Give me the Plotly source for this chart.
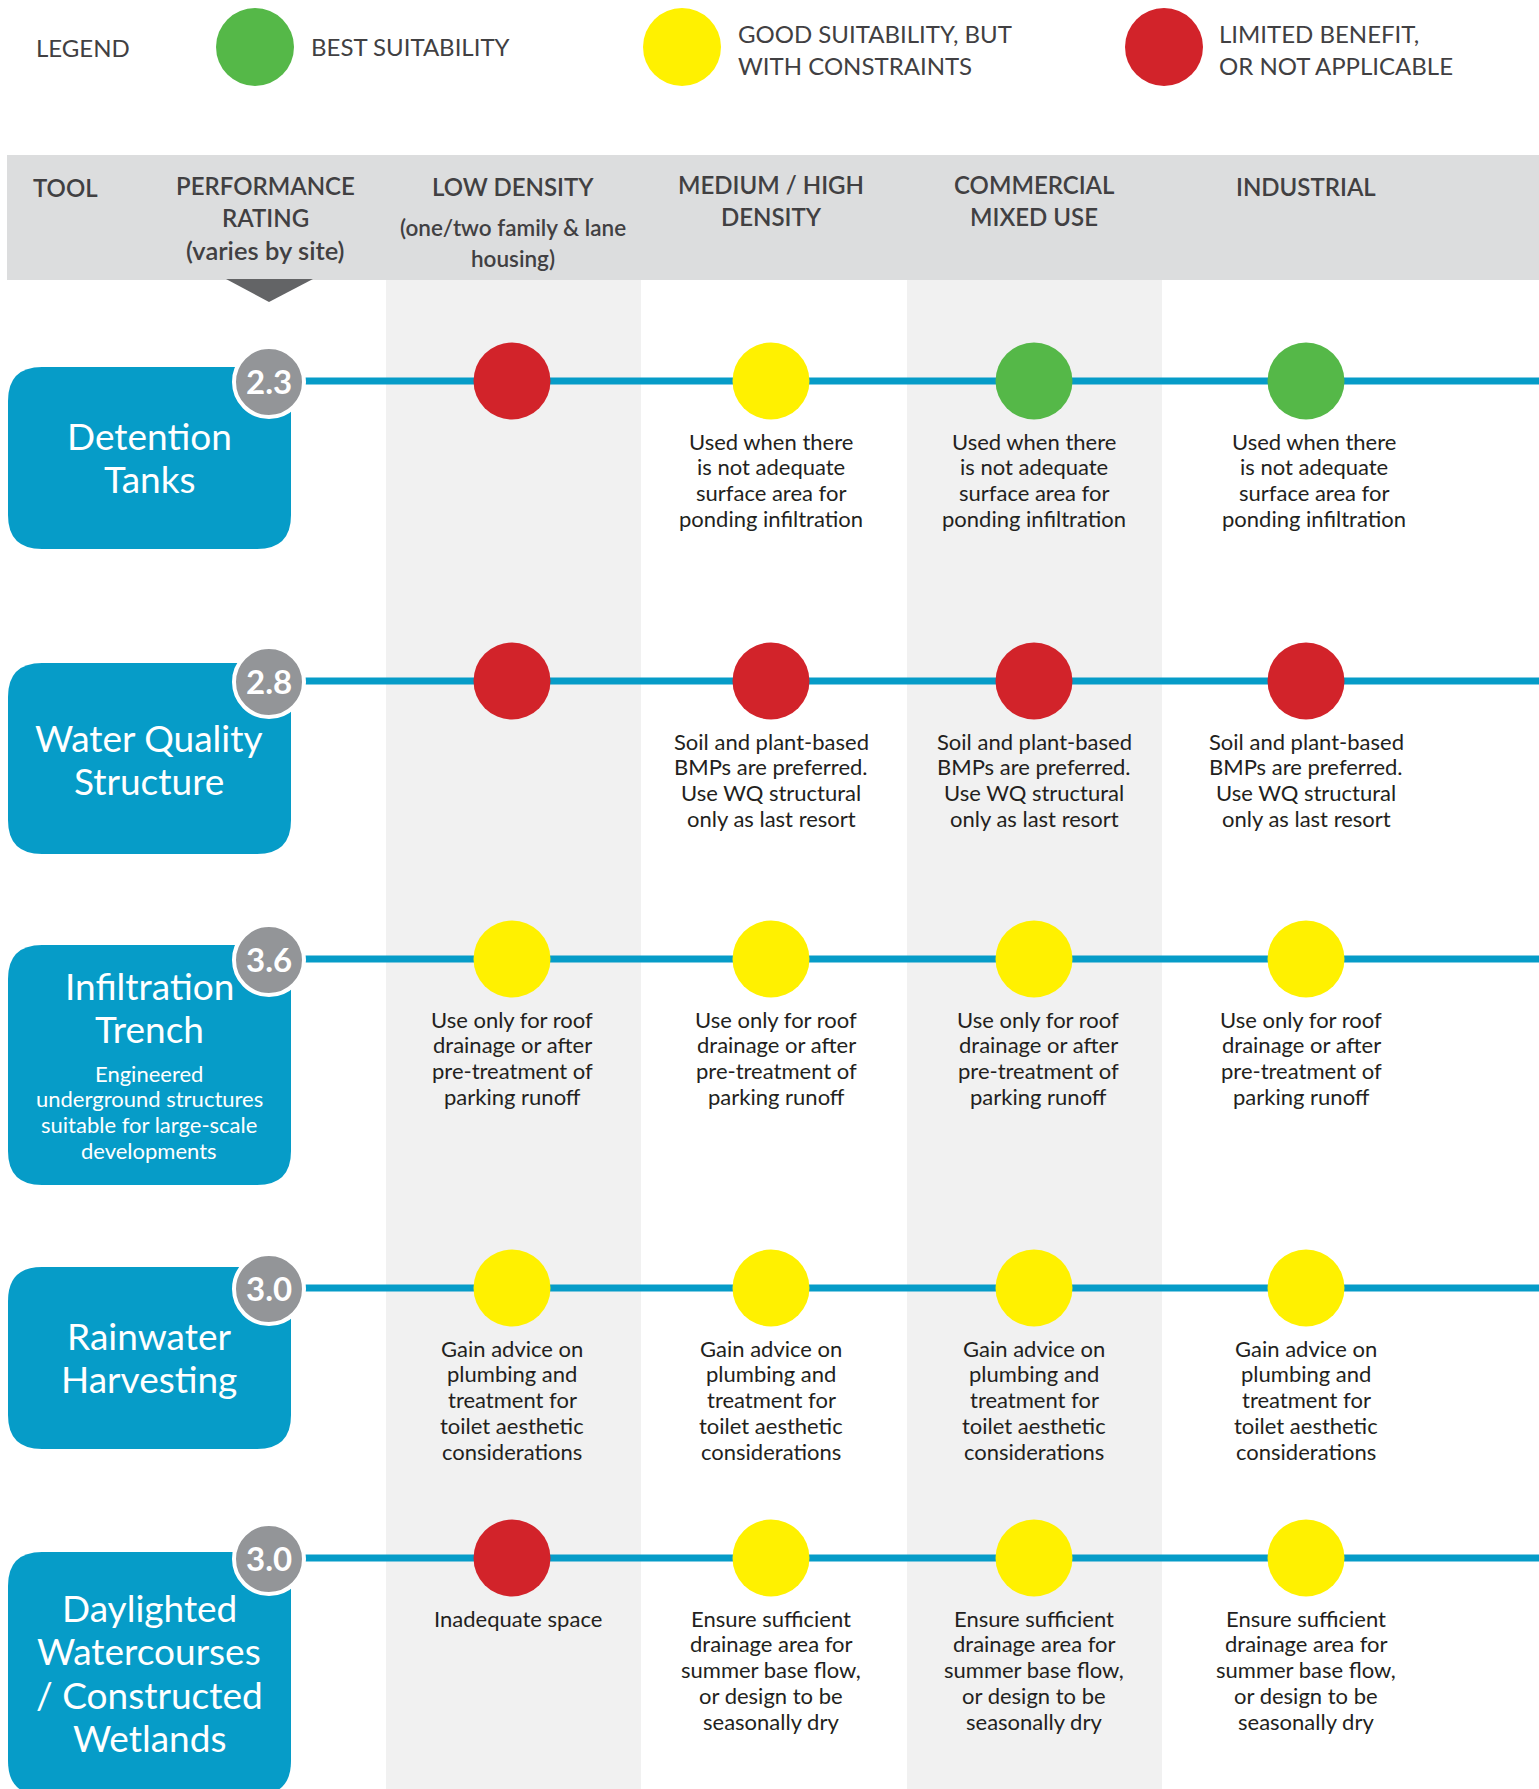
import plotly.graph_objects as go

# ---------------- DATA ----------------
tools = ["Detention\nTanks", "Water Quality\nStructure", "Infiltration\nTrench",
         "Rainwater\nHarvesting", "Daylighted\nWatercourses\n/ Constructed\nWetlands"]
tool_notes = ["", "", "Engineered\nunderground structures\nsuitable for large-scale\ndevelopments", "", ""]
ratings = [2.3, 2.8, 3.6, 3.0, 3.0]

header_labels = ["TOOL", "PERFORMANCE\nRATING\n(varies by site)",
                 "LOW DENSITY\n(one/two family & lane\nhousing)",
                 "MEDIUM / HIGH\nDENSITY", "COMMERCIAL\nMIXED USE", "INDUSTRIAL"]

legend_labels = ["BEST SUITABILITY", "GOOD SUITABILITY, BUT\nWITH CONSTRAINTS",
                 "LIMITED BENEFIT,\nOR NOT APPLICABLE"]
legend_codes = ["G", "Y", "R"]

# suitability per tool (rows) x land use (columns): G=best, Y=good w/ constraints, R=limited
suitability = [
    ["R", "Y", "G", "G"],
    ["R", "R", "R", "R"],
    ["Y", "Y", "Y", "Y"],
    ["Y", "Y", "Y", "Y"],
    ["R", "Y", "Y", "Y"],
]
_ponding = "Used when there\nis not adequate\nsurface area for\nponding infiltration"
_soil = "Soil and plant-based\nBMPs are preferred.\nUse WQ structural\nonly as last resort"
_roof = "Use only for roof\ndrainage or after\npre-treatment of\nparking runoff"
_gain = "Gain advice on\nplumbing and\ntreatment for\ntoilet aesthetic\nconsiderations"
_ensure = "Ensure sufficient\ndrainage area for\nsummer base flow,\nor design to be\nseasonally dry"
notes = [
    ["", _ponding, _ponding, _ponding],
    ["", _soil, _soil, _soil],
    [_roof, _roof, _roof, _roof],
    [_gain, _gain, _gain, _gain],
    ["Inadequate space", _ensure, _ensure, _ensure],
]

# ---------------- LAYOUT / STYLE ----------------
W, H = 1539, 1789
COLORS = {"G": "#55B848", "Y": "#FFF100", "R": "#D2232A"}
TEAL = "#069CC8"
RATING_GRAY = "#939598"
HEADER_GRAY = "#DCDDDE"
SHADE = "#F1F1F1"
TXT = "#231F20"
HTXT = "#414042"
FONT = "Lato"

COL_X = [512, 771, 1034, 1306]
NOTE_DX = [[0, 0, 0, 8], [0, 0, 0, 0], [0, 5, 4, -5], [0, 0, 0, 0], [6, 0, 0, 0]]
ROW_Y = [381, 681, 959, 1288, 1558]
BOX_TOP = [367, 663, 945, 1267, 1552]
BOX_BOT = [549, 854, 1185, 1449, 1795]
BOX_X0, BOX_X1, BOX_R = 8, 291, 34
BOX_CX = 149
NAME_Y0 = [435, 737, 985, 1335, 1607]
NAME_DY = 43.5
RATE_X = 269
HEAD_X = [65, 265, 513, 771, 1034, 1306]
HEAD_Y = [[187], [185, 217, 250], [186, 227, 258], [184, 216], [184, 216], [186]]
LEG_CX = [255, 682, 1164]
LEG_TX = [309, 736, 1217]

fig = go.Figure()
shapes = []
ann = []

# column shading
for x0, x1 in [(386, 641), (907, 1162)]:
    shapes.append(dict(type="rect", x0=x0, x1=x1, y0=279, y1=H + 5, fillcolor=SHADE,
                       line_width=0, layer="below"))
# header band
shapes.append(dict(type="rect", x0=7, x1=W + 5, y0=155, y1=280, fillcolor=HEADER_GRAY,
                   line_width=0, layer="below"))
# triangle
shapes.append(dict(type="path", path="M 226 279 L 313 279 L 269 302 Z", fillcolor="#636466",
                   line_width=0, layer="below"))

# row lines
for y in ROW_Y:
    shapes.append(dict(type="line", x0=RATE_X, x1=W + 5, y0=y, y1=y,
                       line=dict(color=TEAL, width=7), layer="below"))


def rounded(x0, y0, x1, y1, r):
    return (f"M {x0+r} {y0} L {x1-r} {y0} Q {x1} {y0} {x1} {y0+r} L {x1} {y1-r} "
            f"Q {x1} {y1} {x1-r} {y1} L {x0+r} {y1} Q {x0} {y1} {x0} {y1-r} "
            f"L {x0} {y0+r} Q {x0} {y0} {x0+r} {y0} Z")


for i in range(len(tools)):
    shapes.append(dict(type="path", path=rounded(BOX_X0, BOX_TOP[i], BOX_X1, BOX_BOT[i], BOX_R),
                       fillcolor=TEAL, line_width=0, layer="below"))
    lines = tools[i].split("\n")
    for k, t in enumerate(lines):
        ann.append(dict(x=BOX_CX, y=NAME_Y0[i] + k * NAME_DY, text=t, showarrow=False,
                        xanchor="center", yanchor="middle",
                        font=dict(family=FONT, size=37, color="white")))
    if tool_notes[i]:
        y0 = NAME_Y0[i] + len(lines) * NAME_DY + 1
        for k, t in enumerate(tool_notes[i].split("\n")):
            ann.append(dict(x=BOX_CX, y=y0 + k * 25.7, text=t, showarrow=False,
                            xanchor="center", yanchor="middle",
                            font=dict(family=FONT, size=22, color="white")))

# rating circles
ry = [y + 1 for y in ROW_Y]
fig.add_trace(go.Scatter(x=[RATE_X] * len(ratings), y=ry, mode="markers",
                         marker=dict(size=70, color=RATING_GRAY, line=dict(color="white", width=4)),
                         hoverinfo="skip", showlegend=False))
for i, r in enumerate(ratings):
    ann.append(dict(x=RATE_X, y=ry[i] - 1, text=f"{r:.1f}", showarrow=False, xanchor="center",
                    yanchor="middle", font=dict(family=FONT, size=33, color="white", weight="bold")))

# suitability circles
for code in ["G", "Y", "R"]:
    xs, ys = [], []
    for i, row in enumerate(suitability):
        for j, c in enumerate(row):
            if c == code:
                xs.append(COL_X[j])
                ys.append(ROW_Y[i])
    fig.add_trace(go.Scatter(x=xs, y=ys, mode="markers",
                             marker=dict(size=77, color=COLORS[code], line_width=0),
                             hoverinfo="skip", showlegend=False))

# notes
for i, row in enumerate(notes):
    for j, txt in enumerate(row):
        if not txt:
            continue
        for k, t in enumerate(txt.split("\n")):
            ann.append(dict(x=COL_X[j] + NOTE_DX[i][j], y=ROW_Y[i] + 60 + k * 25.8, text=t,
                            showarrow=False, xanchor="center", yanchor="middle",
                            font=dict(family=FONT, size=22, color=TXT)))

# header text
for j, lab in enumerate(header_labels):
    for k, t in enumerate(lab.split("\n")):
        if t.upper() == t:
            sz = 24
        elif t.startswith("(varies"):
            sz = 25.5
        else:
            sz = 22.5
        ann.append(dict(x=HEAD_X[j], y=HEAD_Y[j][k], text=t, showarrow=False,
                        xanchor="center", yanchor="middle",
                        font=dict(family=FONT, size=sz, color=HTXT, weight=600)))

# legend
ann.append(dict(x=34, y=47, text="LEGEND", showarrow=False, xanchor="left", yanchor="middle",
                font=dict(family=FONT, size=24, color=HTXT)))
fig.add_trace(go.Scatter(x=LEG_CX, y=[47] * 3, mode="markers",
                         marker=dict(size=78, color=[COLORS[c] for c in legend_codes], line_width=0),
                         hoverinfo="skip", showlegend=False))
for j, lab in enumerate(legend_labels):
    parts = lab.split("\n")
    ys = [46] if len(parts) == 1 else [33, 65]
    for k, t in enumerate(parts):
        ann.append(dict(x=LEG_TX[j], y=ys[k], text=t, showarrow=False, xanchor="left",
                        yanchor="middle", font=dict(family=FONT, size=24, color=HTXT)))

fig.update_layout(
    width=W, height=H, margin=dict(l=0, r=0, t=0, b=0),
    paper_bgcolor="white", plot_bgcolor="white",
    xaxis=dict(range=[0, W], visible=False, fixedrange=True),
    yaxis=dict(range=[H, 0], visible=False, fixedrange=True),
    shapes=shapes, annotations=ann, showlegend=False,
)
fig.write_html("out.html", config={"displayModeBar": False},
               post_script="document.body.style.margin='0';document.body.style.padding='0';")
